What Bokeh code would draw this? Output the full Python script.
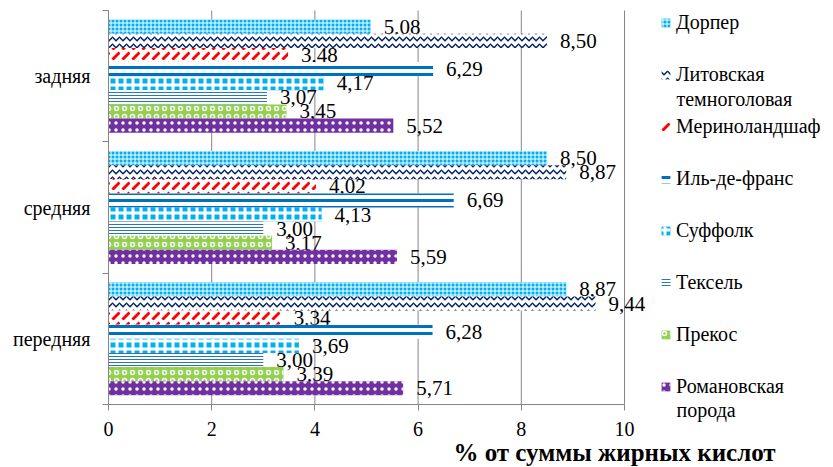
from bokeh.plotting import figure
from bokeh.models import Legend, LegendItem, Label, ColumnDataSource, FixedTicker, Range1d
from bokeh.core.properties import value
from bokeh.embed import file_html
from bokeh.resources import INLINE

categories = ["передняя", "средняя", "задняя"]
series = ["Дорпер", "Литовская", "Мериноландшаф", "Иль-де-франс",
          "Суффолк", "Тексель", "Прекос", "Романовская"]
series_extra = {"Литовская": "темноголовая", "Романовская": "порода"}
# values per category: передняя, средняя, задняя
dorper = [8.87, 8.50, 5.08]
litovskaya = [9.44, 8.87, 8.50]
merino = [3.34, 4.02, 3.48]
ile = [6.28, 6.69, 6.29]
suffolk = [3.69, 4.13, 4.17]
texel = [3.00, 3.00, 3.07]
prekos = [3.39, 3.17, 3.45]
romanov = [5.71, 5.59, 5.52]
all_vals = [dorper, litovskaya, merino, ile, suffolk, texel, prekos, romanov]
x_ticks = [0, 2, 4, 6, 8, 10]
x_title = "% от суммы жирных кислот"

styles = [
    dict(fill_color="#00B0F0", hatch_pattern="cross", hatch_color="white", hatch_scale=4, hatch_weight=1),
    dict(fill_color="white", hatch_pattern="horizontal_wave", hatch_color="#002060", hatch_scale=7, hatch_weight=1.5),
    dict(fill_color="white", hatch_pattern="right_diagonal_dash", hatch_color="#FF0000", hatch_scale=10, hatch_weight=3),
    dict(fill_color="white", hatch_pattern="horizontal_line", hatch_color="#0070C0", hatch_scale=7, hatch_weight=3),
    dict(fill_color="#00B0F0", hatch_pattern="cross", hatch_color="white", hatch_scale=8, hatch_weight=3),
    dict(fill_color="white", hatch_pattern="horizontal_line", hatch_color="#2E75B6", hatch_scale=3, hatch_weight=1),
    dict(fill_color="#92D050", hatch_pattern="ring", hatch_color="white", hatch_scale=8, hatch_weight=1.5),
    dict(fill_color="#7030A0", hatch_pattern="dot", hatch_color="white", hatch_scale=7, hatch_weight=1),
]

# layout: the frame spans the whole canvas; axes sit at fixed data locations
W, H = 833, 467
X0_PX, Y0_PX = 108, 404   # canvas pixel position of the data origin
PX_PER_X = 51.6           # px per x unit
PX_PER_CAT = 394 / 3.0    # px per category band
p = figure(x_range=Range1d(-X0_PX / PX_PER_X, (W - X0_PX) / PX_PER_X),
           y_range=Range1d(-(H - Y0_PX) / PX_PER_CAT, Y0_PX / PX_PER_CAT),
           width=W, height=H, frame_width=W, frame_height=H,
           min_border_left=0, min_border_right=0, min_border_top=0, min_border_bottom=0,
           output_backend="svg", toolbar_location=None)

ncat = len(categories)
cat_pos = [i + 0.5 for i in range(ncat)]

# vertical grid lines, bounded to the category area
p.segment(x0=x_ticks, x1=x_ticks, y0=[0] * len(x_ticks), y1=[ncat] * len(x_ticks),
          line_color="#868686", line_width=1)

n = len(series)
h = 0.86 / n
items = []
for j, (name, vals, st) in enumerate(zip(series, all_vals, styles)):
    off = (n / 2 - 0.5 - j) * h
    src = ColumnDataSource(dict(y=[c + off for c in cat_pos], v=vals,
                                lbl=[f"{v:.2f}".replace(".", ",") for v in vals]))
    r = p.hbar(y="y", right="v", left=0, height=h, source=src, line_color=None, **st)
    p.text(x="v", y="y", text="lbl", source=src,
           x_offset=13, text_baseline="middle", text_align="left",
           text_font=value("Liberation Serif"), text_font_size="21px", text_color="black")
    items.append(LegendItem(label=name, renderers=[r]))

legend = Legend(items=items, location=(660, 69), padding=0, margin=0,
                glyph_width=11, glyph_height=11, label_height=24, spacing=28,
                label_standoff=5, background_fill_alpha=0, border_line_color=None,
                label_text_font="Liberation Serif", label_text_font_size="20px",
                label_text_color="black")
p.add_layout(legend, "center")

# second lines of two-line legend labels
for name, extra in series_extra.items():
    idx = series.index(name)
    p.add_layout(Label(x=676, y=H - 22 - idx * 51.8 - 25, x_units="screen", y_units="screen",
                       text=extra, text_baseline="middle", text_align="left",
                       text_font="Liberation Serif", text_font_size="20px", text_color="black"))

p.add_layout(Label(x=614, y=15, x_units="screen", y_units="screen",
                   text=x_title, text_baseline="middle", text_align="center",
                   text_font="Liberation Serif", text_font_size="25px", text_font_style="bold",
                   text_color="black"))

p.xaxis.fixed_location = 0
p.xaxis.bounds = (x_ticks[0], x_ticks[-1])
p.xaxis.ticker = FixedTicker(ticks=x_ticks)
p.xaxis.axis_line_color = "#868686"
p.xaxis.major_tick_line_color = "#868686"
p.xaxis.major_tick_out = 6
p.xaxis.major_tick_in = 0
p.xaxis.minor_tick_line_color = None
p.xaxis.major_label_standoff = 11
p.xaxis.major_label_text_font = "Liberation Serif"
p.xaxis.major_label_text_font_size = "20px"
p.xaxis.major_label_text_color = "black"

p.yaxis.fixed_location = 0
p.yaxis.bounds = (0, ncat)
p.yaxis.ticker = FixedTicker(ticks=cat_pos, minor_ticks=list(range(ncat + 1)))
p.yaxis.major_label_overrides = {c: lab for c, lab in zip(cat_pos, categories)}
p.yaxis.axis_line_color = "#868686"
p.yaxis.major_tick_line_color = None
p.yaxis.minor_tick_line_color = "#868686"
p.yaxis.minor_tick_out = 6
p.yaxis.minor_tick_in = 0
p.yaxis.major_label_standoff = 12
p.yaxis.major_label_text_font = "Liberation Serif"
p.yaxis.major_label_text_font_size = "20px"
p.yaxis.major_label_text_color = "black"

p.xgrid.grid_line_color = None
p.ygrid.grid_line_color = None
p.outline_line_color = None

open("out.html", "w").write(file_html(p, INLINE))
